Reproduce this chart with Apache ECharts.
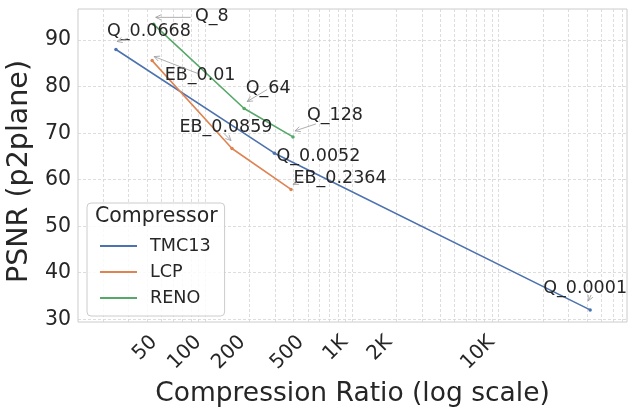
<!DOCTYPE html>
<html>
<head>
<meta charset="utf-8">
<title>PSNR vs compression ratio</title>
<script src="https://cdn.jsdelivr.net/npm/echarts@6/dist/echarts.min.js"></script>
<style>
  html, body { margin: 0; padding: 0; background: #fff; }
  #main { width: 636px; height: 409px; }
</style>
</head>
<body>
<div id="main"></div>
<script>
// data
var tmcRatio = [24.6, 296, 42000];
var tmcPsnr = [88.0, 65.7, 32.0];
var tmcTags = ['Q_0.0668', 'Q_0.0052', 'Q_0.0001'];

var lcpRatio = [43.4, 152, 384];
var lcpPsnr = [85.6, 66.7, 57.9];
var lcpTags = ['EB_0.01', 'EB_0.0859', 'EB_0.2364'];

var renoRatio = [44.5, 184, 396];
var renoPsnr = [93.4, 75.3, 69.2];
var renoTags = ['Q_8', 'Q_64', 'Q_128'];

var xTickValues = [50, 100, 200, 500, 1000, 2000, 10000];
var xTickLabels = ['50', '100', '200', '500', '1K', '2K', '10K'];
var yTickValues = [30, 40, 50, 60, 70, 80, 90];
// minor + major grid of the log axis
var xGridValues = [20, 30, 40, 50, 60, 70, 80, 90, 100,
    200, 300, 400, 500, 600, 700, 800, 900, 1000,
    2000, 3000, 4000, 5000, 6000, 7000, 8000, 9000, 10000,
    20000, 30000, 40000, 50000, 60000, 70000];

// annotation placement (pixels, relative to the point)
var tagText = {
    TMC13: [[33, -18], [44, 3], [-5, -21]],
    LCP: [[48, 15], [-6, -21], [49, -11]],
    RENO: [[58, -8], [24, -20], [42, -21]]
};
var tagArrow = {
    TMC13: [[12, -11, 1, -8], null, [1, -15, -2, -9]],
    LCP: [[46, 13, 2, -4], [-8, -15, -1, -8], [6, -7, 2, -5]],
    RENO: [[37, -7, 2, -7], [23, -19, 3, -7], [23, -13, 2, -6]]
};

var FONT = 'DejaVu Sans';
var INK = '#262626';
var colors = {TMC13: '#4c72b0', LCP: '#dd8452', RENO: '#55a868'};

function pairs(xs, ys) {
    return xs.map(function (x, i) { return [x, ys[i]]; });
}

var groups = [
    {name: 'TMC13', x: tmcRatio, y: tmcPsnr, tags: tmcTags},
    {name: 'LCP', x: lcpRatio, y: lcpPsnr, tags: lcpTags},
    {name: 'RENO', x: renoRatio, y: renoPsnr, tags: renoTags}
];

var series = groups.map(function (g) {
    return {
        name: g.name,
        type: 'line',
        data: pairs(g.x, g.y),
        symbol: 'circle',
        symbolSize: 3.5,
        showSymbol: true,
        lineStyle: {width: 1.6, color: colors[g.name]},
        itemStyle: {color: colors[g.name]},
        emphasis: {disabled: true},
        z: 3
    };
});

// annotations with arrows
var tagData = [];
groups.forEach(function (g) {
    g.x.forEach(function (x, i) {
        tagData.push({value: [x, g.y[i]], group: g.name, idx: i, text: g.tags[i]});
    });
});

series.push({
    type: 'custom',
    name: 'tags',
    silent: true,
    z: 5,
    encode: {x: 0, y: 1},
    data: tagData.map(function (d) { return d.value; }),
    renderItem: function (params, api) {
        var d = tagData[params.dataIndex];
        var p = api.coord([api.value(0), api.value(1)]);
        var off = tagText[d.group][d.idx];
        var kids = [{
            type: 'text',
            style: {
                x: p[0] + off[0], y: p[1] + off[1],
                text: d.text, fill: INK,
                font: '17.5px "' + FONT + '"',
                align: 'center', verticalAlign: 'middle'
            }
        }];
        var a = tagArrow[d.group][d.idx];
        if (a) {
            var x1 = p[0] + a[0], y1 = p[1] + a[1];
            var x2 = p[0] + a[2], y2 = p[1] + a[3];
            var ang = Math.atan2(y2 - y1, x2 - x1);
            var hl = 6, spread = 0.45;
            var st = {stroke: '#9a9a9a', lineWidth: 0.8, fill: null};
            kids.push({type: 'line', shape: {x1: x1, y1: y1, x2: x2, y2: y2}, style: st});
            kids.push({type: 'polyline', shape: {points: [
                [x2 - hl * Math.cos(ang - spread), y2 - hl * Math.sin(ang - spread)],
                [x2, y2],
                [x2 - hl * Math.cos(ang + spread), y2 - hl * Math.sin(ang + spread)]
            ]}, style: st});
        }
        return {type: 'group', children: kids};
    }
});

var chart = echarts.init(document.getElementById('main'), null, {renderer: 'canvas'});
chart.setOption({
    animation: false,
    backgroundColor: '#ffffff',
    textStyle: {fontFamily: FONT, color: INK},
    grid: {
        left: 78, right: 9, top: 9, bottom: 87,
        outerBoundsMode: 'none',
        show: true, borderColor: '#cccccc', borderWidth: 1
    },
    xAxis: {
        type: 'log',
        logBase: 10,
        min: 13.56,
        max: 74900,
        name: 'Compression Ratio (log scale)',
        nameLocation: 'middle',
        nameGap: 59,
        nameTextStyle: {fontSize: 26.5, color: INK, fontFamily: FONT},
        axisLine: {show: false},
        axisTick: {show: false, customValues: xGridValues},
        splitLine: {show: true, lineStyle: {type: [3, 2], color: '#d4d4d4', width: 0.8}},
        axisLabel: {
            customValues: xTickValues,
            rotate: 45,
            margin: 10,
            padding: [0, 10, 0, 0],
            fontSize: 20,
            color: INK,
            fontFamily: FONT,
            formatter: function (v) {
                var i = xTickValues.indexOf(Math.round(v));
                return i >= 0 ? xTickLabels[i] : '';
            }
        }
    },
    yAxis: {
        type: 'value',
        min: 29.4,
        max: 96.7,
        name: 'PSNR (p2plane)',
        nameLocation: 'middle',
        nameGap: 36,
        nameTextStyle: {fontSize: 28.5, color: INK, fontFamily: FONT, padding: [0, 12, 0, 0]},
        axisLine: {show: false},
        axisTick: {show: false, customValues: yTickValues},
        splitLine: {show: true, lineStyle: {type: [3, 2], color: '#d4d4d4', width: 0.8}},
        axisLabel: {
            customValues: yTickValues,
            margin: 7,
            fontSize: 20.5,
            color: INK,
            fontFamily: FONT
        }
    },
    legend: {
        orient: 'vertical',
        left: 87,
        top: 203,
        data: ['TMC13', 'LCP', 'RENO'],
        icon: 'rect',
        itemWidth: 37,
        itemHeight: 2,
        itemGap: 6,
        padding: [33, 14, 8, 13],
        backgroundColor: 'rgba(255,255,255,0.85)',
        borderColor: '#cccccc',
        borderWidth: 1,
        borderRadius: 4,
        selectedMode: false,
        textStyle: {fontSize: 17.6, color: INK, fontFamily: FONT, lineHeight: 20, padding: [0, 0, 0, 8]}
    },
    graphic: [{
        type: 'text',
        left: 95,
        top: 206,
        z: 100,
        style: {text: 'Compressor', font: '20.5px "' + FONT + '"', fill: INK}
    }],
    series: series
});
</script>
</body>
</html>
